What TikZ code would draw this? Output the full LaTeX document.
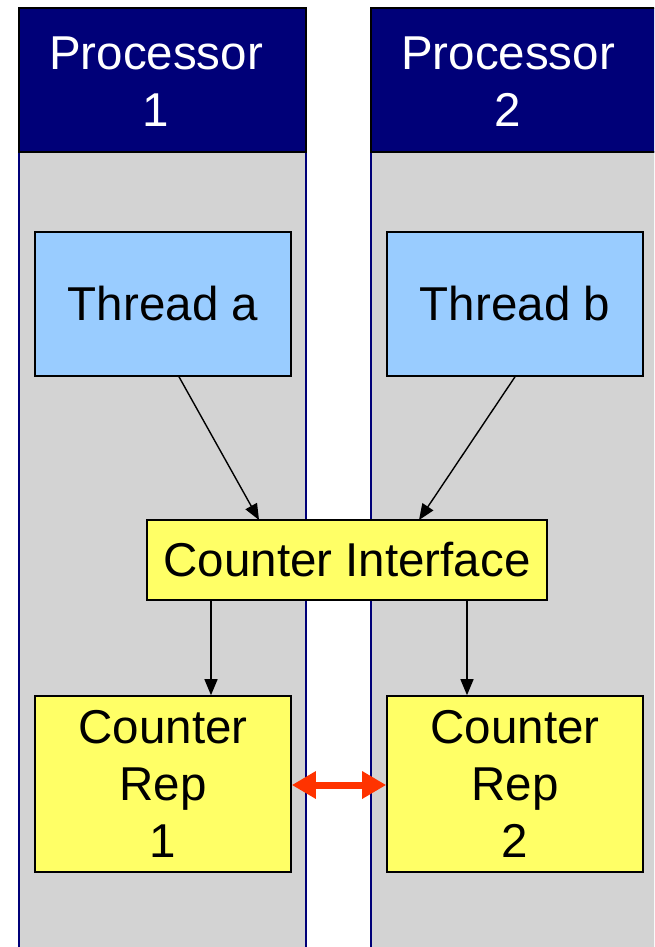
\documentclass[tikz,border=0pt]{standalone}
\usepackage{fontspec}
\setmainfont{Liberation Sans}
\usetikzlibrary{arrows.meta}
\definecolor{navyhead}{RGB}{0,0,120}
\definecolor{lanegray}{RGB}{211,211,211}
\definecolor{threadblue}{RGB}{153,204,255}
\definecolor{counteryellow}{RGB}{255,255,102}
\definecolor{linkred}{RGB}{255,51,0}
\begin{document}
\begin{tikzpicture}[x=1pt,y=-1pt,
  lane/.style={fill=lanegray,draw=navyhead,line width=1.5pt},
  header/.style={fill=navyhead,draw=black,line width=1.8pt},
  headtext/.style={text=white,font=\fontsize{47.5}{57}\selectfont,align=center},
  box/.style={draw=black,line width=1.6pt,minimum width=256pt,
    font=\fontsize{47.5}{57}\selectfont,align=center,inner sep=0pt},
  threadbox/.style={box,fill=threadblue,minimum height=144pt},
  repbox/.style={box,fill=counteryellow,minimum height=176pt},
  flow/.style={-{Triangle[length=16pt,width=13pt]},line width=1.4pt,black},
  link/.style={{Triangle[length=24pt,width=26pt]}-{Triangle[length=24pt,width=26pt]},line width=7pt,linkred}
]
\useasboundingbox (0,0) rectangle (654,947);
\begin{scope}
\clip (0,0) rectangle (654,947);
% processor lanes
\draw[lane] (19,152) rectangle (306,960);
\draw[lane] (371,152) rectangle (670,960);
\draw[header] (19,8) rectangle (306,152);
\draw[header] (371,8) rectangle (670,152);
\end{scope}
\node[headtext] (p1) at (156,82) {Processor\\1};
\node[headtext] (p2) at (508,82) {Processor\\2};

% threads
\node[threadbox] (ta) at (163,304) {Thread a};
\node[threadbox] (tb) at (515,304) {Thread b};

% shared interface
\node[box,fill=counteryellow,minimum width=400pt,minimum height=80pt] (ci) at (347,560) {Counter Interface};

% counter representatives
\node[repbox] (r1) at (163,784) {Counter\\Rep\\1};
\node[repbox] (r2) at (515,784) {Counter\\Rep\\2};

% connectors
\coordinate (ciA) at (259,520);
\coordinate (ciB) at (419,520);
\draw[flow] (ta.south -| 179,0) -- (ciA);
\draw[flow] (tb.south -| 515,0) -- (ciB);
\draw[flow] (ci.south -| 211,0) -- (r1.north -| 211,0);
\draw[flow] (ci.south -| 467,0) -- (r2.north -| 467,0);
\draw[link] (r1.east |- 0,785) -- (r2.west |- 0,785);
\end{tikzpicture}
\end{document}
